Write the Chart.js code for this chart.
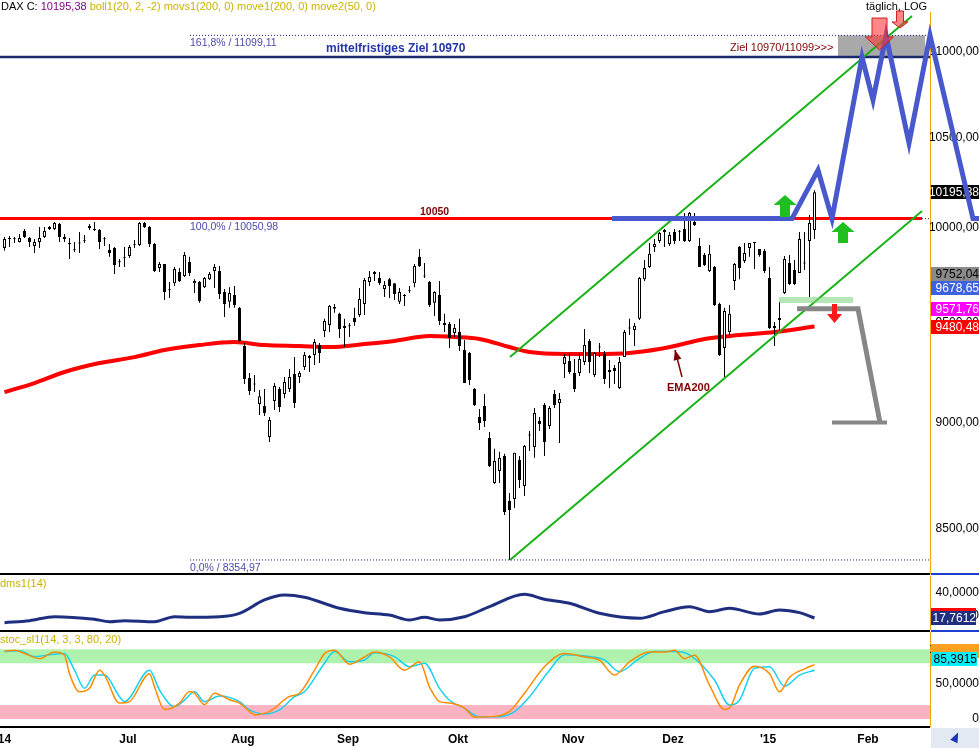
<!DOCTYPE html>
<html>
<head>
<meta charset="utf-8">
<script src="https://cdn.jsdelivr.net/npm/chart.js@4.4.1/dist/chart.umd.min.js"></script>
<style>
  body { margin: 0; background: #fff; width: 979px; height: 748px; overflow: hidden; position: relative;
         font-family: "Liberation Sans", Arial, sans-serif; }
  canvas { position: absolute; left: 0; }
  #cMain { top: 0; }
  #cDms { top: 576px; }
  #cStoc { top: 632px; }
  .sep { position: absolute; left: 0; width: 930px; height: 2px; background: #000; }
  .sepR { position: absolute; left: 931px; width: 48px; height: 2px; background: #1d3fd0; }
  .txt { position: absolute; font-size: 11px; line-height: 12px; white-space: nowrap; }
  #corner { position: absolute; left: 931px; top: 728px; width: 48px; height: 20px; background: #e2e9f2; }
  #corner i { position: absolute; left: 21px; top: 4px; width: 0; height: 0; border-left: 4px solid transparent;
              border-right: 4px solid transparent; border-bottom: 10px solid #1a34b8; transform: rotate(25deg); }
</style>
</head>
<body>
<canvas id="cMain" width="979" height="575"></canvas>
<canvas id="cDms" width="979" height="54"></canvas>
<canvas id="cStoc" width="979" height="116"></canvas>

<div class="sep" style="top:573px"></div><div class="sepR" style="top:573px"></div>
<div class="sep" style="top:630px"></div><div class="sepR" style="top:630px"></div>
<div class="sep" style="top:726px"></div>
<div id="corner"><i></i></div>

<div class="txt" style="left:1px;top:0">DAX C: <span style="color:#800080">10195,38</span> <span style="color:#cdb100">boll1(20, 2, -2) movs1(200, 0) move1(200, 0) move2(50, 0)</span></div>
<div class="txt" style="left:866px;top:0">täglich, LOG</div>
<div class="txt" style="left:0;top:577px;color:#cdb100">dms1(14)</div>
<div class="txt" style="left:0;top:633px;color:#cdb100">stoc_sl1(14, 3, 3, 80, 20)</div>

<script>
// ---------------------------------------------------------------------------
// Data (x = trading day index, first candle = 0)
// ---------------------------------------------------------------------------
const candleOpen = [9893,9946,9941,9925,9984,9946,9903,9925,9952,9995, 9995,10022,9952,9919,9884,9917,9928,10011,9995,9989,
  9940,9882,9893,9820,9837,9850,9907,9909,10027,10005, 9914,9786,9807,9668,9706,9764,9743,9818,9706,9712,
  9685,9727,9770,9770,9659,9608,9644,9577,9381,9220, 9188,9091,9081,8930,9106,9165,9140,9165,9240,9225,
  9275,9330,9335,9386,9458,9489,9582,9546,9484,9482, 9525,9540,9597,9712,9764,9733,9675,9727,9706,9608,
  9644,9663,9706,9845,9741,9712,9603,9644,9499,9494, 9448,9453,9361,9346,9165,9028,9081,8925,8711,8767,
  8839,8627,8636,8820,8697,8938,8882,9008,9086,8983, 9140,9096,9290,9305,9245,9245,9300,9407,9235,9374,
  9341,9260,9270,9170,9325,9471,9463,9520,9727,9791, 9898,9930,9989,9914,9978,9977,9995,9930,10033,9903,
  9855,9770,9791,9597,9371,9453,9717,9898,9823,9893, 9925,9887,9877,9733,9484,9525,9654,9812,9775,9759,
  9810,9930,9989];
const candleHigh = [9952,9957,9952,9968,9995,9952,9941,10005,10005,10011, 10033,10027,9968,9946,9925,9978,9962,10022,10033,9995,
  9952,9914,9898,9834,9898,9909,9935,10033,10033,10011, 9919,9818,9807,9712,9791,9786,9871,9845,9727,9717,
  9738,9764,9807,9796,9675,9685,9691,9582,9397,9245, 9235,9160,9165,9028,9195,9175,9225,9265,9325,9255,
  9351,9335,9417,9397,9520,9592,9597,9551,9520,9499, 9577,9680,9733,9770,9770,9764,9717,9733,9706,9680,
  9649,9691,9807,9887,9812,9717,9664,9717,9546,9504, 9494,9520,9412,9351,9170,9067,9140,8954,8873,8859,
  8849,8664,8854,8839,8892,8959,9072,9028,9096,9081, 9160,9145,9341,9346,9315,9346,9468,9417,9351,9397,
  9356,9310,9285,9325,9463,9520,9499,9738,9828,9919, 9941,9978,9995,9978,9995,9989,10082,10087,10082,9946,
  9866,9909,9796,9603,9577,9592,9812,9903,9919,9919, 9925,9887,9887,9791,9504,9608,9850,9855,9828,9978,
  9978,10071,10206];
const candleLow = [9877,9898,9919,9922,9946,9898,9866,9893,9946,9989, 9989,9925,9925,9834,9871,9866,9919,9989,9984,9887,
  9903,9845,9754,9791,9791,9839,9893,9903,10000,9898, 9764,9764,9618,9628,9691,9712,9738,9743,9654,9603,
  9680,9722,9680,9623,9530,9577,9577,9402,9190,9135, 9150,9037,9032,8906,9062,9052,9120,9150,9072,9195,
  9260,9250,9285,9295,9427,9453,9551,9422,9376,9427, 9484,9530,9540,9691,9717,9696,9633,9628,9618,9597,
  9587,9654,9685,9791,9733,9582,9535,9489,9453,9371, 9427,9356,9195,9185,9081,8964,8979,8786,8706,8711,
  8561,8355,8594,8687,8650,8863,8830,8959,8839,8969, 9072,8901,9220,9240,9150,9230,9285,9245,9225,9325,
  9190,9170,9190,9165,9325,9437,9381,9514,9717,9786, 9871,9919,9898,9903,9914,9930,9925,9925,10011,9791,
  9796,9764,9587,9330,9225,9437,9670,9727,9812,9845, 9780,9845,9759,9468,9381,9453,9649,9696,9696,9759,
  9775,9633,9941];
const candleClose = [9941,9941,9940,9946,9952,9925,9925,9946,9984,10005, 10027,9952,9941,9914,9880,9920,9931,10000,9989,9925,
  9942,9866,9802,9817,9840,9898,9910,10027,10005,9914, 9770,9807,9659,9671,9780,9717,9855,9759,9717,9613,
  9733,9754,9791,9649,9597,9654,9592,9407,9215,9155, 9192,9130,9047,9013,9180,9076,9200,9225,9096,9245,
  9335,9320,9402,9346,9509,9587,9572,9468,9473,9486, 9504,9623,9722,9738,9754,9706,9696,9691,9649,9659,
  9639,9666,9796,9796,9745,9592,9659,9509,9489,9422, 9473,9381,9195,9210,9086,8998,9008,8791,8815,8830,
  8575,8584,8854,8725,8887,8942,9047,8993,8906,9072, 9086,9116,9325,9250,9165,9315,9386,9300,9346,9378,
  9215,9250,9255,9300,9453,9475,9484,9733,9786,9861, 9914,9973,9978,9962,9930,9980,9930,10082,10016,9791,
  9802,9861,9592,9335,9561,9546,9807,9786,9866,9919, 9919,9855,9770,9473,9473,9514,9834,9701,9701,9941,
  9814,10027,10195.38];

const emaIdx = [0,6,12,19,26,32,39,46,52,59,65,72,78,85,90,95,101,105,112,118,125,131,134,140,147,154,162];
const emaVal = [9150,9195,9250,9295,9325,9361,9386,9401,9386,9381,9376,9391,9407,9432,9427,9417,9376,9351,9341,9341,9346,9366,9381,9417,9437,9453,9480.48];

const yTicksMain = [8500, 9000, 9500, 10000, 10500, 11000];
const fibLevels = [11099.11, 10050.98, 8354.97];
const fibNames = ['161,8% / 11099,11', '100,0% / 10050,98', '0,0% / 8354,97'];
const fibStartIdx = 37.1;
const resistance = 10050.98;
const resistanceEndIdx = 183.5;
const targetLevel = 10970;
const targetBoxIdx = [166.7, 184.1];

const channelUpperIdx = [101.1, 181.5];
const channelUpperVal = [9325, 11216];
const channelLowerIdx = [101.1, 183.5];
const channelLowerVal = [8355, 10092];

const bluePathIdx = [121.5, 157.5, 162.7, 165.5, 171.5, 173.7, 176.3, 180.9, 185.1, 193.7, 195.1];
const bluePathVal = [10050.98, 10050.98, 10319, 10050.98, 10970, 10718, 11099.11, 10471, 11099.11, 10050.98, 10050.98];
const grayPathIdx = [158.5, 170.7, 175.1];
const grayPathVal = [9571.76, 9571.76, 9000];
const grayBaseIdx = [165.5, 176.5];
const grayBaseVal = [9000, 9000];
const greenZoneIdx = [154.9, 169.7];
const greenZoneVal = [9618, 9618];

const upArrowIdx = [156.1, 167.7];
const upArrowTip = [10180, 10033];
const upArrowTail = [10060, 9919];
const downArrowIdx = [166.0];
const downArrowTail = [9597];
const downArrowTip = [9499];
const topArrowIdx = [175.0, 179.1];
const topArrowTail = [11204, 11247];
const topArrowTip = [11012, 11144];

const lastMarks = [10195.38, 9752.04, 9678.65, 9571.76, 9480.48];
const lastMarkBg = ['#000000', '#8a8a8a', '#3d62e0', '#ff00ff', '#ff0000'];
const lastMarkFg = ['#ffffff', '#000000', '#ffffff', '#ffffff', '#ffffff'];

const dmsIdx = [0,5,10,18,21,24,30,34,37,43,47,52,56,60,67,72,77,81,84,87,92,97,104,108,113,119,127,132,137,141,145,151,155,159,162];
const dmsVal = [13.6,15.4,18.9,16.6,14.5,15.4,14.5,18.9,18.4,18.9,21.9,33.8,38.2,36.2,26.4,22.5,20.4,16.0,18.4,16.0,18.9,27.8,38.8,34.4,30.8,21.9,17.5,23.4,27.8,23.4,26.4,21.3,24.9,22.5,17.76];
const dmsLast = 17.7612;
const dmsTicks = [20, 40];

const stocKIdx = [0,2,4,7,10,12,13,15,17,19,20,23,25,29,30,32,35,37,38,40,42,45,47,49,50,53,57,59,62,64,66,69,72,74,77,80,83,85,87,89,92,94,98,101,104,108,112,116,119,122,125,129,132,134,136,138,141,144,145,147,150,153,155,157,160,162];
const stocKVal = [97.6,98.5,94,86.7,96,91.4,65,39,44,70,63,22.9,25,65,46,13.6,22.9,39.5,37,20.5,37,27.6,22.9,10.9,6.2,10.9,32.4,37,70,93.8,98.6,78.6,89,96,89,70,82,46,25,22.9,15.7,2.9,3.8,10.9,37,75,93.8,89,84.3,63,82,96,96,98.6,86.7,91.4,48.6,13.8,15.7,48.6,75.7,65,39,60,72,78];
const stocDIdx = [0,3,6,9,12,14,16,18,20,23,24,29,31,34,36,38,40,43,47,49,52,55,58,60,64,66,69,72,74,78,81,84,87,89,92,95,99,102,105,109,112,117,120,123,127,130,134,137,142,145,147,150,153,156,159,162];
const stocDVal = [96.7,98,89.5,92,94,70,44,63,63,32,25,70,41.6,17.7,27,39,25,33,25,13,7.2,13,32,39,80,96.7,82,84.7,95,89.5,75,80,44,27,15.3,3.3,3.3,10.5,32,70,92,89.5,84.7,68,87,96.7,96.7,92,56,20,27,72.7,75,47,63,70];
const stocLastD = 85.3915;
const stocLastK = 98;
const stocTicks = [0, 50, 100];
const stocZones = [[80, 100], [0, 20]];

const monthLabels = ["'14", 'Jul', 'Aug', 'Sep', 'Okt', 'Nov', 'Dez', "'15", 'Feb'];
const monthStart = [0, 25, 48, 69, 91, 114, 134, 153, 173];

// ---------------------------------------------------------------------------
// Helpers
// ---------------------------------------------------------------------------
const FONT = '"Liberation Sans", Arial, sans-serif';
Chart.defaults.font.family = FONT;

const xMin = -0.9, xMax = 185.1;
const AXIS_W = 49;
const AXIS_COLOR = '#f0a500';

const fmt = (v, d) => v.toFixed(d).replace('.', ',');
const pts = (xs, ys) => xs.map((x, k) => ({ x, y: ys[k] }));

const lineDs = (data, color, width, order, extra) => Object.assign({
  type: 'line', data, borderColor: color, borderWidth: width, pointRadius: 0, fill: false, order
}, extra || {});

const baseOptions = {
  responsive: false,
  devicePixelRatio: 1,
  animation: false,
  events: [],
  plugins: { legend: { display: false }, tooltip: { enabled: false } },
};

const noPad = s => { s.paddingLeft = 0; s.paddingRight = 0; s.paddingTop = 0; s.paddingBottom = 0; };

function rightAxis(min, max, ticks, fmtFn, type) {
  return {
    type: type || 'linear', position: 'right', min, max, bounds: 'data',
    afterFit: s => { s.width = AXIS_W; noPad(s); },
    afterBuildTicks: s => { s.ticks = ticks.map(v => ({ value: v })); },
    grid: { display: false, drawTicks: false },
    border: { display: true, color: AXIS_COLOR, width: 1 },
    ticks: { autoSkip: false, crossAlign: 'far', padding: 0, color: '#000', font: { size: 12 }, callback: fmtFn },
  };
}

function hiddenX() {
  return { type: 'linear', min: xMin, max: xMax, display: false, offset: false };
}

function valueBox(ctx, x0, x1, y, bg, fg, text) {
  ctx.fillStyle = bg;
  ctx.fillRect(x0, Math.round(y) - 7, x1 - x0, 14);
  if (!text) return;
  ctx.fillStyle = fg;
  ctx.font = '12px ' + FONT;
  ctx.textAlign = 'right';
  ctx.textBaseline = 'middle';
  ctx.fillText(text, x1, Math.round(y) + 0.5);
}

function label(ctx, text, x, y, font, color) {
  ctx.font = font + ' ' + FONT;
  ctx.fillStyle = color;
  ctx.textAlign = 'left';
  ctx.textBaseline = 'middle';
  ctx.fillText(text, x, y);
}

function blockArrow(ctx, cx, yTail, yTip, w, shaft, head, fill, stroke) {
  const d = yTail > yTip ? 1 : -1;
  const yh = yTip + d * head;
  ctx.beginPath();
  ctx.moveTo(cx, yTip);
  ctx.lineTo(cx + w / 2, yh);
  ctx.lineTo(cx + shaft / 2, yh);
  ctx.lineTo(cx + shaft / 2, yTail);
  ctx.lineTo(cx - shaft / 2, yTail);
  ctx.lineTo(cx - shaft / 2, yh);
  ctx.lineTo(cx - w / 2, yh);
  ctx.closePath();
  ctx.fillStyle = fill;
  ctx.fill();
  if (stroke) { ctx.strokeStyle = stroke; ctx.lineWidth = 1; ctx.stroke(); }
}

// ---------------------------------------------------------------------------
// Main price panel
// ---------------------------------------------------------------------------
const mainDecor = {
  id: 'mainDecor',
  beforeDatasetsDraw(chart) {
    const { ctx, chartArea: a, scales: { x, y } } = chart;
    ctx.save();
    const bx0 = x.getPixelForValue(targetBoxIdx[0]);
    const bx1 = x.getPixelForValue(targetBoxIdx[1]);
    const by0 = y.getPixelForValue(fibLevels[0]);
    const by1 = y.getPixelForValue(targetLevel);
    ctx.fillStyle = '#a9a9a9';
    ctx.fillRect(bx0, by0, bx1 - bx0, by1 - by0);
    lastMarks.forEach((v, k) =>
      valueBox(ctx, a.right + 1, chart.width, y.getPixelForValue(v), lastMarkBg[k], lastMarkFg[k], fmt(v, 2)));
    ctx.restore();
  },
  afterDatasetsDraw(chart) {
    const { ctx, scales: { x, y } } = chart;
    ctx.save();
    fibLevels.forEach((lv, k) =>
      label(ctx, fibNames[k], x.getPixelForValue(fibStartIdx), y.getPixelForValue(lv) + 8, '10.5px', '#4a4aa8'));
    label(ctx, 'mittelfristiges Ziel 10970', x.getPixelForValue(64.3), y.getPixelForValue(targetLevel) - 8, 'bold 12px', '#2436a8');
    label(ctx, 'Ziel 10970/11099>>>', x.getPixelForValue(145.1), y.getPixelForValue(targetLevel) - 9, '11px', '#800000');
    label(ctx, '10050', x.getPixelForValue(83.1), y.getPixelForValue(resistance) - 7, 'bold 10.5px', '#800000');
    label(ctx, 'EMA200', x.getPixelForValue(132.5), y.getPixelForValue(9170), 'bold 11px', '#800000');

    // EMA200 pointer
    const tx = x.getPixelForValue(135.5), ty = y.getPixelForValue(9225);
    const hx = x.getPixelForValue(134.1), hy = y.getPixelForValue(9361);
    const ang = Math.atan2(hy - ty, hx - tx);
    ctx.strokeStyle = '#800000';
    ctx.fillStyle = '#800000';
    ctx.lineWidth = 1.5;
    ctx.beginPath(); ctx.moveTo(tx, ty); ctx.lineTo(hx, hy); ctx.stroke();
    ctx.beginPath();
    ctx.moveTo(hx, hy);
    ctx.lineTo(hx - 10 * Math.cos(ang) + 4 * Math.sin(ang), hy - 10 * Math.sin(ang) - 4 * Math.cos(ang));
    ctx.lineTo(hx - 10 * Math.cos(ang) - 4 * Math.sin(ang), hy - 10 * Math.sin(ang) + 4 * Math.cos(ang));
    ctx.closePath(); ctx.fill();

    upArrowIdx.forEach((i, k) => blockArrow(ctx, x.getPixelForValue(i), y.getPixelForValue(upArrowTail[k]),
      y.getPixelForValue(upArrowTip[k]), 23, 10, 10, '#1fbf1f'));
    downArrowIdx.forEach((i, k) => blockArrow(ctx, x.getPixelForValue(i), y.getPixelForValue(downArrowTail[k]),
      y.getPixelForValue(downArrowTip[k]), 15, 5, 9, '#ff1a1a'));
    const topW = [[28, 15, 13], [16, 7, 6]];
    topArrowIdx.forEach((i, k) => blockArrow(ctx, x.getPixelForValue(i), y.getPixelForValue(topArrowTail[k]),
      y.getPixelForValue(topArrowTip[k]), topW[k][0], topW[k][1], topW[k][2], 'rgba(255,55,55,0.6)', '#d02020'));
    ctx.restore();
  }
};

const candleIdx = candleOpen.map((_, i) => i);
const wickData = candleIdx.map(i => ({ x: i, y: [candleLow[i], candleHigh[i]] }));
const bodyData = candleIdx.map(i => ({ x: i, y: [candleOpen[i], candleClose[i]] }));
const bodyFill = candleIdx.map(i => candleClose[i] >= candleOpen[i] ? '#ffffff' : '#000000');

new Chart(document.getElementById('cMain'), {
  type: 'bar',
  data: {
    datasets: [
      ...fibLevels.map(lv => lineDs(pts([fibStartIdx, xMax], [lv, lv]), '#22227a', 1, 20, { borderDash: [1, 2] })),
      lineDs(pts([xMin, xMax], [targetLevel, targetLevel]), '#1b2a6b', 2.5, 19),
      lineDs(pts([xMin, resistanceEndIdx], [resistance, resistance]), '#ff0000', 3, 18),
      lineDs(pts(emaIdx, emaVal), '#ff0000', 4, 15, { cubicInterpolationMode: 'monotone' }),
      {
        type: 'bar', data: wickData, backgroundColor: '#000', borderWidth: 0, barThickness: 1,
        grouped: false, inflateAmount: 0, order: 12
      },
      {
        type: 'bar', data: bodyData, backgroundColor: bodyFill, borderColor: '#000', borderWidth: 1,
        borderSkipped: false, barThickness: 3, minBarLength: 1, grouped: false, inflateAmount: 0, order: 11
      },
      lineDs(pts(channelUpperIdx, channelUpperVal), '#16b316', 2, 8),
      lineDs(pts(channelLowerIdx, channelLowerVal), '#16b316', 2, 8),
      // the projection runs past the price axis, so index it on y to keep every point
      lineDs(pts(bluePathIdx, bluePathVal), '#4759cc', 5, 6, { clip: false, indexAxis: 'y' }),
      lineDs(pts(grayPathIdx, grayPathVal), '#878787', 5, 5),
      lineDs(pts(grayBaseIdx, grayBaseVal), '#878787', 4, 5),
      lineDs(pts(greenZoneIdx, greenZoneVal), 'rgba(120,210,120,0.55)', 6, 4),
    ]
  },
  options: {
    ...baseOptions,
    layout: { autoPadding: false, padding: { top: 12, bottom: 2, left: 0, right: 0 } },
    scales: {
      x: hiddenX(),
      y: rightAxis(8296.3, 11240.6, yTicksMain, v => fmt(v, 2), 'logarithmic'),
    }
  },
  plugins: [mainDecor]
});

// ---------------------------------------------------------------------------
// dms1(14) panel
// ---------------------------------------------------------------------------
const dmsDecor = {
  id: 'dmsDecor',
  afterDatasetsDraw(chart) {
    const { ctx, chartArea: a, scales: { y } } = chart;
    const py = y.getPixelForValue(dmsLast);
    ctx.save();
    ctx.fillStyle = '#ff0000';
    ctx.fillRect(a.right + 1, Math.round(py) - 10, chart.width - a.right - 4, 3);
    valueBox(ctx, a.right + 1, chart.width - 3, py, '#1f2f80', '#ffffff', fmt(dmsLast, 4));
    ctx.restore();
  }
};

new Chart(document.getElementById('cDms'), {
  type: 'line',
  data: {
    datasets: [lineDs(pts(dmsIdx, dmsVal), '#1f2f80', 3, 1, { cubicInterpolationMode: 'monotone' })]
  },
  options: {
    ...baseOptions,
    layout: { autoPadding: false, padding: 0 },
    scales: {
      x: hiddenX(),
      y: rightAxis(7.08, 55.1, dmsTicks, v => fmt(v, 4)),
    }
  },
  plugins: [dmsDecor]
});

// ---------------------------------------------------------------------------
// stoc_sl1 panel with month axis
// ---------------------------------------------------------------------------
const stocDecor = {
  id: 'stocDecor',
  beforeDatasetsDraw(chart) {
    const { ctx, chartArea: a, scales: { y } } = chart;
    ctx.save();
    const cols = ['rgba(140,236,140,0.7)', 'rgba(250,160,180,0.8)'];
    stocZones.forEach((z, k) => {
      const y0 = y.getPixelForValue(z[1]), y1 = y.getPixelForValue(z[0]);
      ctx.fillStyle = cols[k];
      ctx.fillRect(a.left, y0, a.right - a.left, y1 - y0);
    });
    ctx.restore();
  },
  afterDatasetsDraw(chart) {
    const { ctx, chartArea: a, scales: { y } } = chart;
    ctx.save();
    valueBox(ctx, a.right + 1, chart.width, y.getPixelForValue(stocLastK), '#ffa020', '#000', '');
    valueBox(ctx, a.right + 1, chart.width - 2, y.getPixelForValue(stocLastD), '#00f0ff', '#000', fmt(stocLastD, 4));
    ctx.restore();
  }
};

new Chart(document.getElementById('cStoc'), {
  type: 'line',
  data: {
    datasets: [
      lineDs(pts(stocDIdx, stocDVal), '#18d0f0', 1.5, 2, { cubicInterpolationMode: 'monotone' }),
      lineDs(pts(stocKIdx, stocKVal), '#ff8c00', 1.5, 1, { cubicInterpolationMode: 'monotone' }),
    ]
  },
  options: {
    ...baseOptions,
    layout: { autoPadding: false, padding: 0 },
    scales: {
      x: {
        type: 'linear', min: xMin, max: xMax, offset: false,
        afterFit: s => { s.height = 22; noPad(s); },
        afterBuildTicks: s => { s.ticks = monthStart.map(v => ({ value: v - 0.3 })); },
        grid: { display: false, drawTicks: false },
        border: { display: false },
        ticks: {
          autoSkip: false, maxRotation: 0, minRotation: 0, padding: 6, color: '#000',
          font: { size: 12, weight: 'bold' }, callback: (v, i) => monthLabels[i]
        }
      },
      y: rightAxis(-10, 124.8, stocTicks, v => (v === 0 ? '0' : fmt(v, 4))),
    }
  },
  plugins: [stocDecor]
});
</script>
</body>
</html>
